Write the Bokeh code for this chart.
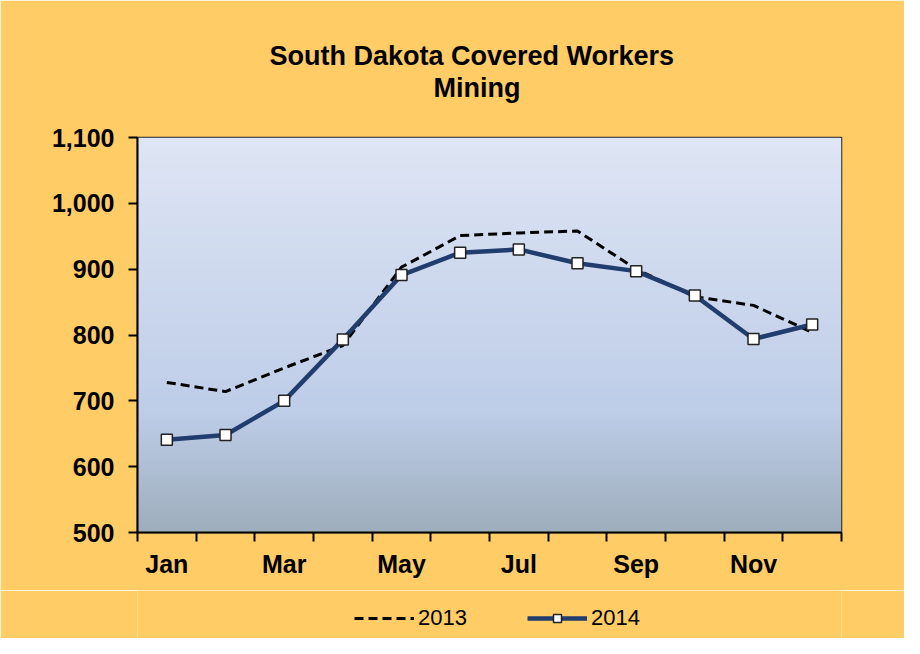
import numpy as np
from bokeh.plotting import figure
from bokeh.layouts import column
from bokeh.models import (Range1d, FixedTicker, NumeralTickFormatter, Title,
                          Legend, LegendItem, ColumnDataSource)
from bokeh.embed import file_html
from bokeh.resources import INLINE

# ---- data ----
months = ["Jan", "Feb", "Mar", "Apr", "May", "Jun",
          "Jul", "Aug", "Sep", "Oct", "Nov", "Dec"]
month_pos = list(range(1, 13))
workers_2013 = [728, 714, 750, 784, 903, 951, 955, 958, 900, 858, 845, 804]
workers_2014 = [641, 648, 700, 793, 891, 925, 930, 909, 897, 860, 794, 816]
series_labels = ["2013", "2014"]
y_ticks = [500, 600, 700, 800, 900, 1000, 1100]
x_label_pos = [1, 3, 5, 7, 9, 11]
x_boundaries = [0.5 + i for i in range(13)]

FONT = "Liberation Sans"
ORANGE = "#FFCC66"
NAVY = "#203D6E"

x_range = Range1d(0.5, 12.5)
y_range = Range1d(500, 1100)

p = figure(width=904, height=590, x_range=x_range, y_range=y_range,
           output_backend="svg", toolbar_location=None, title=None,
           min_border_left=137, min_border_right=63,
           min_border_top=137, min_border_bottom=58)

p.background_fill_color = ORANGE
p.border_fill_color = ORANGE
p.outline_line_color = "#222222"
p.outline_line_width = 1.5
p.xgrid.visible = False
p.ygrid.visible = False

# gradient plot-area background
n = 300
h = np.linspace(0, 1, n)
stops_h = [0.0, 0.3, 1.0]
stops_c = [(158, 174, 188), (190, 205, 232), (223, 230, 245)]
img = np.empty((n, 2), dtype=np.uint32)
view = img.view(dtype=np.uint8).reshape((n, 2, 4))
for ch in range(3):
    col = np.interp(h, stops_h, [c[ch] for c in stops_c])
    view[:, :, ch] = col[:, None].astype(np.uint8)
view[:, :, 3] = 255
p.image_rgba(image=[img], x=x_range.start, y=y_range.start,
             dw=x_range.end - x_range.start, dh=y_range.end - y_range.start)

src = ColumnDataSource(dict(x=month_pos, y13=workers_2013, y14=workers_2014))
style13 = dict(line_color="black", line_width=3, line_dash="9 5")
style14 = dict(line_color=NAVY, line_width=4.5)
style14m = dict(marker="square", size=11, fill_color="white",
                line_color="#222222", line_width=1.5)
p.line("x", "y13", source=src, **style13)
p.line("x", "y14", source=src, **style14)
p.scatter("x", "y14", source=src, **style14m)

# axes
p.yaxis.ticker = FixedTicker(ticks=y_ticks)
p.yaxis.formatter = NumeralTickFormatter(format="0,0")
p.yaxis.major_tick_in = 0
p.yaxis.major_tick_out = 9
p.yaxis.minor_tick_line_color = None
p.yaxis.axis_line_width = 2
p.yaxis.major_tick_line_width = 2
p.yaxis.major_label_standoff = 14
p.yaxis.major_label_text_font = FONT
p.yaxis.major_label_text_font_style = "bold"
p.yaxis.major_label_text_font_size = "25px"
p.yaxis.major_label_text_color = "black"

p.xaxis.ticker = FixedTicker(ticks=x_label_pos, minor_ticks=x_boundaries)
p.xaxis.major_label_overrides = {i: months[i - 1] for i in x_label_pos}
p.xaxis.major_tick_in = 0
p.xaxis.major_tick_out = 0
p.xaxis.minor_tick_in = 0
p.xaxis.minor_tick_out = 9
p.xaxis.minor_tick_line_width = 2
p.xaxis.minor_tick_line_color = "black"
p.xaxis.axis_line_width = 2
p.xaxis.major_label_standoff = 8
p.xaxis.major_label_text_font = FONT
p.xaxis.major_label_text_font_style = "bold"
p.xaxis.major_label_text_font_size = "25px"
p.xaxis.major_label_text_color = "black"

# titles (first added = closest to plot)
def make_title(text, size, offset=0):
    return Title(text=text, text_font=FONT, text_font_size=size,
                 text_font_style="bold", align="left", text_color="black",
                 offset=offset)

spacer_top = make_title(" ", "21px")
t_mining = make_title("Mining", "27px", offset=296)
t_main = make_title("South Dakota Covered Workers", "27px", offset=132)
for t in (t_mining, t_main):
    try:
        t.standoff = 0
    except Exception:
        pass
p.add_layout(spacer_top, "above")
p.add_layout(t_mining, "above")
p.add_layout(t_main, "above")

# ---- legend strip below the chart ----
q = figure(width=904, height=48, x_range=Range1d(0, 1),
           y_range=Range1d(0, 1), output_backend="svg", toolbar_location=None,
           title=None, x_axis_location=None, y_axis_location=None,
           min_border_left=137, min_border_right=63,
           min_border_top=0, min_border_bottom=0)
q.background_fill_color = ORANGE
q.border_fill_color = ORANGE
q.outline_line_color = None
q.xgrid.visible = False
q.ygrid.visible = False
# series drawn off-range here; they only supply the legend swatches
k13 = q.line("x", "y13", source=src, **style13)
k14 = q.line("x", "y14", source=src, **style14)
k14m = q.scatter("x", "y14", source=src, **style14m)

legend = Legend(items=[LegendItem(label=series_labels[0], renderers=[k13]),
                       LegendItem(label=series_labels[1], renderers=[k14, k14m])],
                orientation="horizontal", location=(217, 7),
                glyph_width=60, glyph_height=20, label_standoff=4, spacing=60,
                label_text_font=FONT, label_text_font_size="22px",
                label_text_color="black",
                background_fill_alpha=0, border_line_color=None,
                margin=0, padding=0)
q.add_layout(legend, "center")

layout = column(p, q, spacing=0)
open("out.html", "w").write(file_html(layout, INLINE))
